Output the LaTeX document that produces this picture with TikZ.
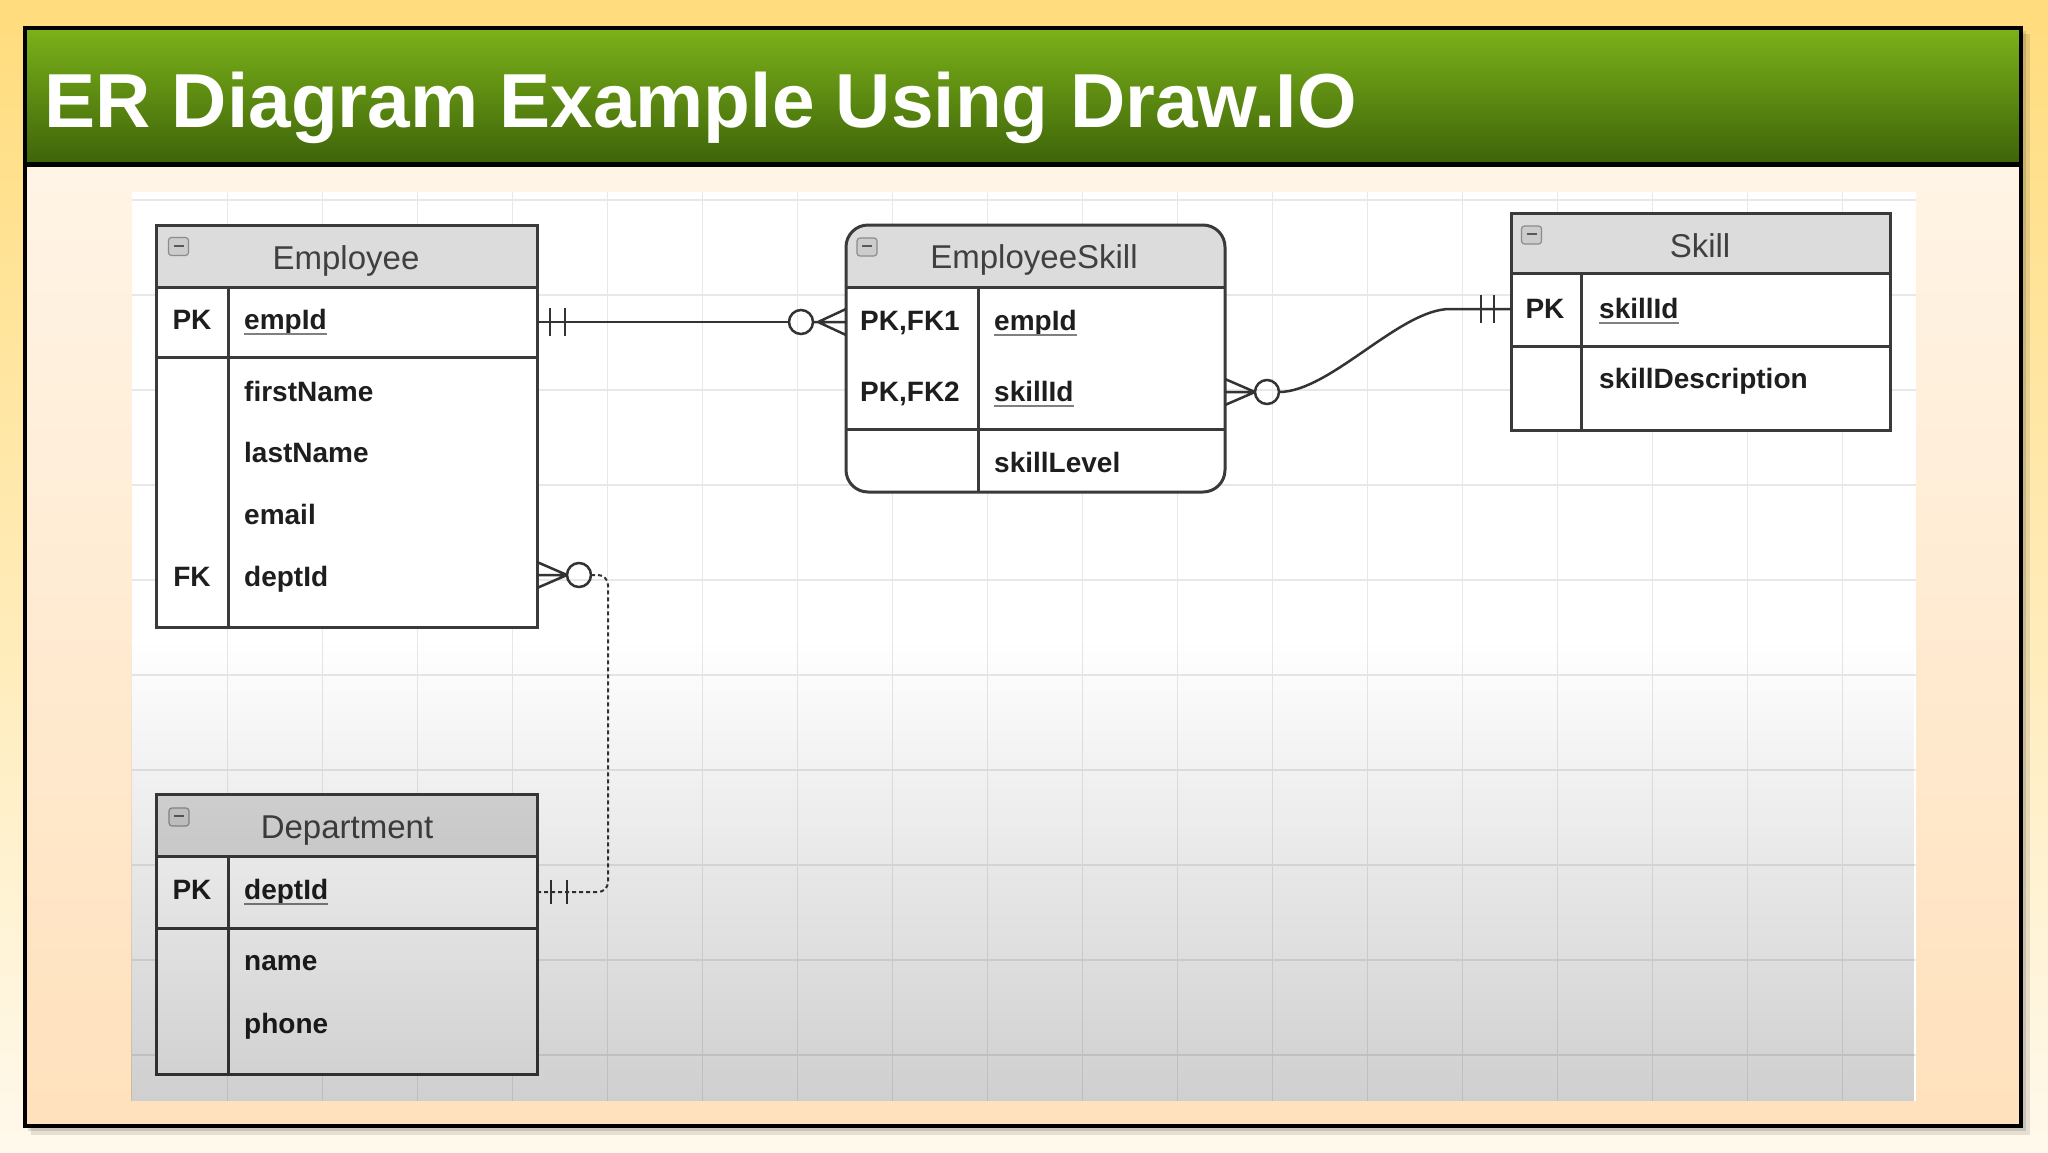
\documentclass[tikz,border=0pt]{standalone}
\usepackage{fontspec}
\setmainfont{Liberation Sans}
\usetikzlibrary{calc,fadings}
\definecolor{bgtop}{HTML}{FFDC7C}
\definecolor{bgmid}{HTML}{FFE597}
\definecolor{bgbot}{HTML}{FFF9EC}
\definecolor{peachtop}{HTML}{FFF4E6}
\definecolor{peachbot}{HTML}{FFE1BC}
\definecolor{greentop}{HTML}{7CB21A}
\definecolor{greenbot}{HTML}{3E6409}
\definecolor{tcol}{HTML}{3A3A3A}
\definecolor{ccol}{HTML}{333333}
\definecolor{hcol}{HTML}{DCDCDC}
\definecolor{gridc}{HTML}{E8E8E8}
\definecolor{txtc}{HTML}{1E1E1E}
\definecolor{hdrc}{HTML}{404040}
\tikzfading[name=fadedown, top color=transparent!100, bottom color=transparent!0]
\tikzset{
  tbody/.style={rectangle, fill=white, draw=none, inner sep=0pt, outer sep=0pt, anchor=north west},
  tline/.style={draw=tcol, line width=3pt},
  conn/.style={draw=ccol, line width=2.5pt},
  dconn/.style={draw=ccol, line width=2pt, dash pattern=on 4pt off 3pt, rounded corners=10pt},
  gridl/.style={draw=gridc, line width=1.4pt},
  hdr/.style={anchor=base, inner sep=0pt, text=hdrc, font=\fontsize{33}{36}\selectfont},
  keyt/.style={anchor=base, inner sep=0pt, text=txtc, font=\fontsize{28}{30}\selectfont\bfseries},
  fld/.style={anchor=base west, inner sep=0pt, text=txtc, font=\fontsize{28}{30}\selectfont\bfseries},
  uline/.style={draw=black!50, line width=1.8pt},
  icon/.style={rectangle, rounded corners=3pt, minimum width=20pt, minimum height=18pt, inner sep=0pt,
    fill=black!20, draw=black!45, line width=1.2pt,
    path picture={\draw[black!65, line width=2pt] ([xshift=-5pt,yshift=1pt]path picture bounding box.center) -- ([xshift=5pt,yshift=1pt]path picture bounding box.center);}}
}
\begin{document}
\begin{tikzpicture}[x=1pt,y=-1pt]
\useasboundingbox (0,0) rectangle (2048,1152);
% outer background
\shade[top color=bgtop, middle color=bgmid, bottom color=bgbot] (0,0) rectangle (2048,1152);
% frame shadow
\fill[black, opacity=0.10] (31,34) rectangle (2030,1135);
\fill[black, opacity=0.12] (28,31) rectangle (2026,1131);
% inner slide
\shade[top color=peachtop, bottom color=peachbot] (25,165) rectangle (2021,1126);
% title bar
\shade[top color=greentop, bottom color=greenbot] (25,28) rectangle (2021,163);
\fill[black] (25,161.5) rectangle (2021,167);
\draw[black, line width=3.5pt] (25,28) rectangle (2021,1126);
\node[anchor=base west, inner sep=0pt, text=white, font=\fontsize{76.6}{80}\selectfont\bfseries] (title) at (44,127) {ER Diagram Example Using Draw.IO};
% canvas
\fill[white] (132,192) rectangle (1916,1101);
\foreach \i in {0,...,17} { \draw[gridl] ({227.6+95*\i},192) -- ({227.6+95*\i},1101); }
\foreach \j in {0,...,8} { \draw[gridl] (132,{295+95*\j}) -- (1916,{295+95*\j}); }
\draw[gridl] (132,200) -- (1916,200);

% ---------- Employee ----------
\node[tbody, minimum width=381pt, minimum height=402pt] (emp) at (156,225) {};
\fill[hcol] (156,225) rectangle (537,287);
\draw[tline] (156,287) -- (537,287) (156,357) -- (537,357) (228,287) -- (228,627);
\draw[tline] (emp.north west) rectangle (emp.south east);
\node[icon] (empicon) at (178.5,246.5) {};
\node[hdr] (empT) at (346,269) {Employee};
\node[keyt] (empK1) at (192,329) {PK};
\node[fld] (empF1) at (244,329) {empId};
\draw[uline] ([yshift=-5pt]empF1.base west) -- ([yshift=-5pt]empF1.base east);
\node[fld] (empF2) at (244,401) {firstName};
\node[fld] (empF3) at (244,462) {lastName};
\node[fld] (empF4) at (244,524) {email};
\node[keyt] (empK2) at (192,586) {FK};
\node[fld] (empF5) at (244,586) {deptId};
\coordinate (empRowPK) at (200,322);
\coordinate (empRowFK) at (200,575);

% ---------- Department ----------
\node[tbody, minimum width=381pt, minimum height=280pt] (dept) at (156,794.6) {};
\fill[hcol] (156,794.6) rectangle (537,856);
\draw[tline] (156,856) -- (537,856) (156,928) -- (537,928) (228,856) -- (228,1074.6);
\draw[tline] (dept.north west) rectangle (dept.south east);
\node[icon] (depticon) at (179,817) {};
\node[hdr] (deptT) at (347,838) {Department};
\node[keyt] (deptK1) at (192,899) {PK};
\node[fld] (deptF1) at (244,899) {deptId};
\draw[uline] ([yshift=-5pt]deptF1.base west) -- ([yshift=-5pt]deptF1.base east);
\node[fld] (deptF2) at (244,970) {name};
\node[fld] (deptF3) at (244,1033) {phone};
\coordinate (deptRowPK) at (200,892);

% ---------- EmployeeSkill ----------
\node[tbody, rounded corners=22pt, minimum width=379pt, minimum height=267pt] (es) at (846,225) {};
\begin{scope}
\clip[rounded corners=22pt] (846,225) rectangle (1225,492);
\fill[hcol] (846,225) rectangle (1225,287);
\end{scope}
\draw[tline] (846,287) -- (1225,287) (846,429) -- (1225,429) (978,287) -- (978,492);
\draw[tline, rounded corners=22pt] (es.north west) rectangle (es.south east);
\node[icon] (esicon) at (867,247) {};
\node[hdr] (esT) at (1034,268) {EmployeeSkill};
\node[keyt] (esK1) at (910,330) {PK,FK1};
\node[fld] (esF1) at (994,330) {empId};
\draw[uline] ([yshift=-5pt]esF1.base west) -- ([yshift=-5pt]esF1.base east);
\node[keyt] (esK2) at (910,401) {PK,FK2};
\node[fld] (esF2) at (994,401) {skillId};
\draw[uline] ([yshift=-5pt]esF2.base west) -- ([yshift=-5pt]esF2.base east);
\node[fld] (esF3) at (994,472) {skillLevel};
\coordinate (esRow2) at (900,392);

% ---------- Skill ----------
\node[tbody, minimum width=379pt, minimum height=217pt] (sk) at (1511,213) {};
\fill[hcol] (1511,213) rectangle (1890,273);
\draw[tline] (1511,273) -- (1890,273) (1511,346) -- (1890,346) (1581,273) -- (1581,430);
\draw[tline] (sk.north west) rectangle (sk.south east);
\node[icon] (skicon) at (1531.5,235) {};
\node[hdr] (skT) at (1700,257) {Skill};
\node[keyt] (skK1) at (1545,318) {PK};
\node[fld] (skF1) at (1599,318) {skillId};
\draw[uline] ([yshift=-5pt]skF1.base west) -- ([yshift=-5pt]skF1.base east);
\node[fld] (skF2) at (1599,388) {skillDescription};
\coordinate (skRowPK) at (1550,309);

% ---------- Connector 1: Employee -> EmployeeSkill ----------
\coordinate (a1) at (emp.east |- empRowPK);
\coordinate (b1) at (es.west |- empRowPK);
\draw[conn] (a1) -- ([xshift=-57pt]b1);
\draw[conn] ([xshift=13pt,yshift=14pt]a1) -- ([xshift=13pt,yshift=-14pt]a1)
            ([xshift=28pt,yshift=14pt]a1) -- ([xshift=28pt,yshift=-14pt]a1);
\draw[conn] ([xshift=-45pt]b1) circle[radius=12pt];
\draw[conn] ([xshift=-28pt]b1) -- ([yshift=13pt]b1) ([xshift=-28pt]b1) -- ([yshift=-13pt]b1) ([xshift=-33pt]b1) -- (b1);

% ---------- Connector 2: EmployeeSkill -> Skill ----------
\coordinate (a2) at (es.east |- esRow2);
\coordinate (b2) at (sk.west |- skRowPK);
\draw[conn] (a2) -- ([xshift=30pt]a2) ([xshift=30pt]a2) -- ([xshift=0pt,yshift=13pt]a2) ([xshift=30pt]a2) -- ([yshift=-13pt]a2);
\draw[conn] ([xshift=42pt]a2) circle[radius=12pt];
\draw[conn] ([xshift=54pt]a2) .. controls ([xshift=105pt]a2) and ([xshift=-111pt]b2) .. ([xshift=-61pt]b2) -- (b2);
\draw[conn] ([xshift=-17pt,yshift=14pt]b2) -- ([xshift=-17pt,yshift=-14pt]b2)
            ([xshift=-30pt,yshift=14pt]b2) -- ([xshift=-30pt,yshift=-14pt]b2);

% ---------- Connector 3: Employee -> Department ----------
\coordinate (a3) at (emp.east |- empRowFK);
\coordinate (b3) at (dept.east |- deptRowPK);
\draw[conn] (a3) -- ([xshift=30pt]a3) ([xshift=30pt]a3) -- ([yshift=13pt]a3) ([xshift=30pt]a3) -- ([yshift=-13pt]a3);
\draw[conn] ([xshift=42pt]a3) circle[radius=12pt];
\draw[dconn] ([xshift=54pt]a3) -- ($(a3)+(71,0)$) |- (b3);
\draw[conn] ([xshift=14pt,yshift=12pt]b3) -- ([xshift=14pt,yshift=-12pt]b3)
            ([xshift=30pt,yshift=12pt]b3) -- ([xshift=30pt,yshift=-12pt]b3);

% ---------- canvas shading overlay ----------
\fill[black, fill opacity=0.19, path fading=fadedown] (132,640) rectangle (1916,1101);
\end{tikzpicture}
\end{document}
